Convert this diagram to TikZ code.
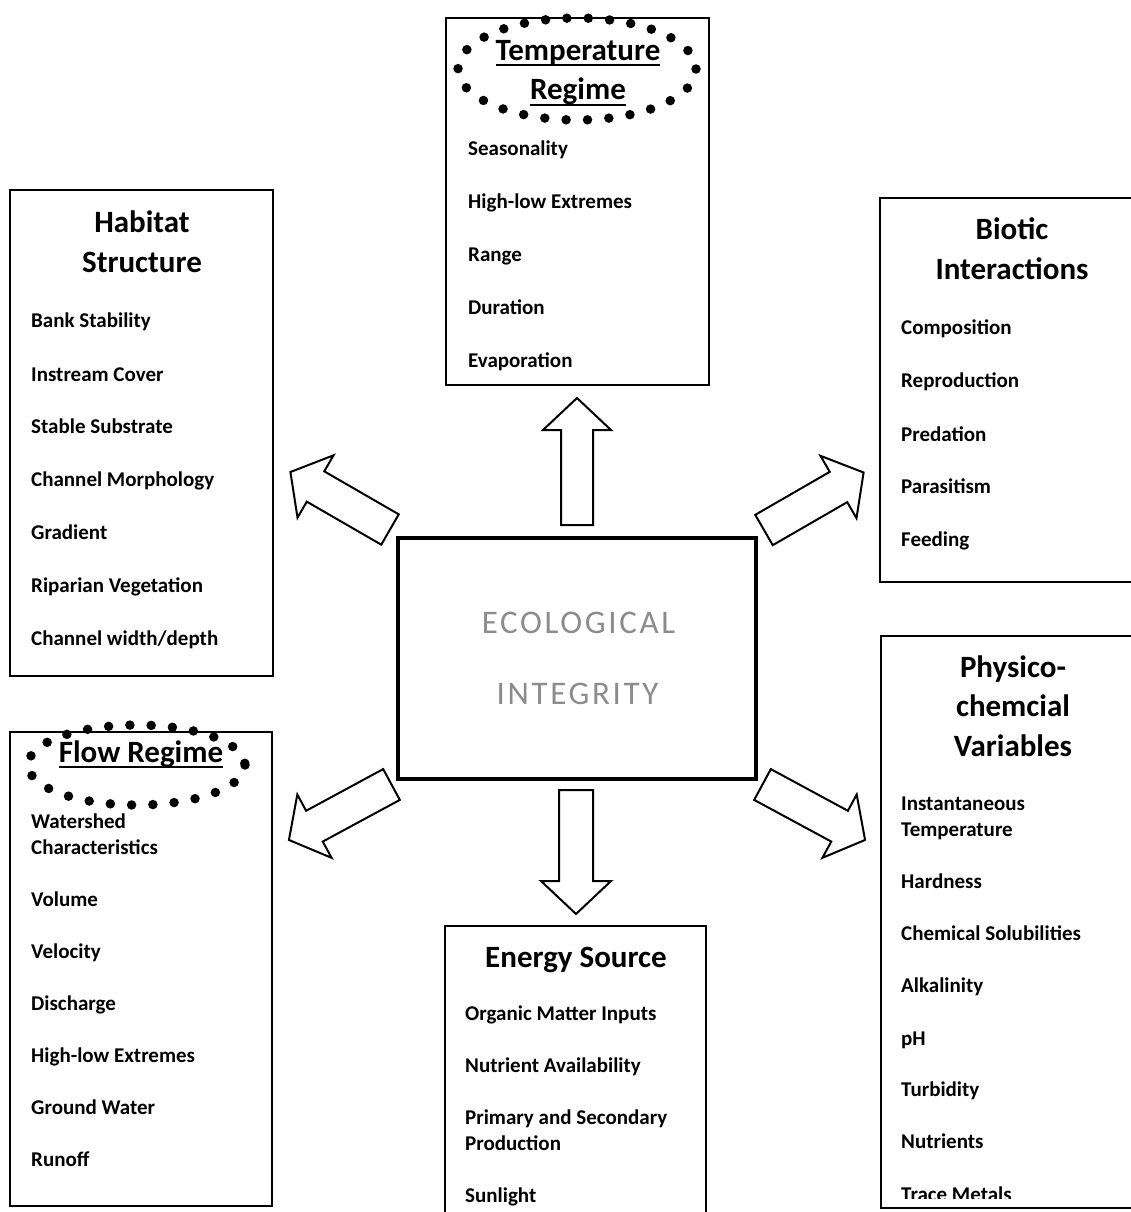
\documentclass[tikz,border=0pt]{standalone}
\usepackage{fontspec}
\setmainfont{Carlito}
\newcommand\myul[1]{\setbox0\hbox{#1}\rlap{\rule[-6pt]{\wd0}{2.2pt}}\box0}
\tikzset{
 box/.style={draw, line width=2.3pt, fill=white, inner sep=0pt},
 item/.style={anchor=base west, inner sep=0pt, font=\bfseries\fontsize{21}{26}\selectfont, align=left},
 ttl/.style={anchor=base, inner sep=0pt, font=\bfseries\fontsize{31}{39.5}\selectfont, align=center},
 barrow/.style={draw, line width=2pt, fill=white, line join=miter},
 dotring/.style={line width=9.5pt, line cap=round},
 eco/.style={inner sep=0pt, text=black!45, font=\fontsize{33}{33}\selectfont\addfontfeature{LetterSpace=8}},
}
% tail, angle, length, headlen, shaft half width, head half width
\newcommand\blockarr[6]{%
 \draw[barrow, shift={(#1)}, rotate=#2] (0,-#5) -- ({#3-#4},-#5) -- ({#3-#4},-#6) -- (#3,0) -- ({#3-#4},#6) -- ({#3-#4},#5) -- (0,#5) -- cycle;}
\begin{document}
\begin{tikzpicture}[x=1pt,y=-1pt]
\useasboundingbox (0,0) rectangle (1131,1212);
\clip (0,0) rectangle (1131,1212);
% boxes
\node[box, minimum width=263, minimum height=367] (temp) at (577.5,201.5) {};
\node[box, minimum width=263, minimum height=486] (hab) at (141.5,433) {};
\node[box, minimum width=264, minimum height=384] (bio) at (1012,390) {};
\node[box, minimum width=264, minimum height=572] (phys) at (1013,922) {};
\node[box, minimum width=262, minimum height=474] (flow) at (141,969) {};
\node[box, minimum width=261, minimum height=310] (ener) at (575.5,1081) {};
\node[box, line width=3.8pt, minimum width=358, minimum height=241] (eco) at (577,658.5) {};
% centre text
\node[eco] (eco1) at (578.5,622.5) {ECOLOGICAL};
\node[eco] (eco2) at (577.5,694) {INTEGRITY};
% Temperature
\node[ttl] (tempT) at (578,100) {\myul{Temperature}\\\myul{Regime}};
\draw[dotring, dash pattern=on 0pt off 21.4pt] (577,69) ellipse [x radius=119, y radius=51];
\node[item] (t1) at (468,155) {Seasonality};
\node[item] (t2) at (468,208) {High-low Extremes};
\node[item] (t3) at (468,261) {Range};
\node[item] (t4) at (468,314) {Duration};
\node[item] (t5) at (468,367) {Evaporation};
% Habitat
\node[ttl] (habT) at (142,272) {Habitat\\Structure};
\node[item] (h1) at (31,327) {Bank Stability};
\node[item] (h2) at (31,381) {Instream Cover};
\node[item] (h3) at (31,433) {Stable Substrate};
\node[item] (h4) at (31,486) {Channel Morphology};
\node[item] (h5) at (31,539) {Gradient};
\node[item] (h6) at (31,592) {Riparian Vegetation};
\node[item] (h7) at (31,645) {Channel width/depth};
% Biotic
\node[ttl] (bioT) at (1012,279) {Biotic\\Interactions};
\node[item] (b1) at (901,334) {Composition};
\node[item] (b2) at (901,387) {Reproduction};
\node[item] (b3) at (901,441) {Predation};
\node[item] (b4) at (901,493) {Parasitism};
\node[item] (b5) at (901,546) {Feeding};
% Physico
\node[ttl] (physT) at (1013,756) {Physico-\\chemcial\\Variables};
\node[item] (p1) at (901,836) {Instantaneous\\Temperature};
\node[item] (p2) at (901,888) {Hardness};
\node[item] (p3) at (901,940) {Chemical Solubilities};
\node[item] (p4) at (901,992) {Alkalinity};
\node[item] (p5) at (901,1045) {pH};
\node[item] (p6) at (901,1096) {Turbidity};
\node[item] (p7) at (901,1148) {Nutrients};
\begin{scope}
\clip (890,1150) rectangle (1131,1198);
\node[item] (p8) at (901,1201.5) {Trace Metals};
\end{scope}
% Flow
\node[ttl] (flowT) at (141,762) {\myul{Flow Regime}};
\draw[dotring, dash pattern=on 0pt off 21.3pt] (136.5,765) ellipse [x radius=108.5, y radius=40];
\node[item] (f1) at (31,854) {Watershed\\Characteristics};
\node[item] (f2) at (31,906) {Volume};
\node[item] (f3) at (31,958) {Velocity};
\node[item] (f4) at (31,1010) {Discharge};
\node[item] (f5) at (31,1062) {High-low Extremes};
\node[item] (f6) at (31,1114) {Ground Water};
\node[item] (f7) at (31,1166) {Runoff};
% Energy
\node[ttl] (enerT) at (576,967) {Energy Source};
\node[item] (e1) at (465,1020) {Organic Matter Inputs};
\node[item] (e2) at (465,1072) {Nutrient Availability};
\node[item] (e3) at (465,1150) {Primary and Secondary\\Production};
\node[item] (e4) at (465,1202) {Sunlight};
% block arrows
\blockarr{577,525}{90}{127}{32}{16}{34}
\blockarr{576,790}{-90}{124}{33}{17}{35}
\blockarr{390,529.5}{150}{115}{29}{17.5}{36}
\blockarr{764,530}{30}{115}{29}{17.5}{36}
\blockarr{762.5,784.5}{-28.4}{116.6}{29}{17.5}{36}
\blockarr{391.5,784.5}{-151.6}{116.6}{29}{17.5}{36}
\end{tikzpicture}
\end{document}
